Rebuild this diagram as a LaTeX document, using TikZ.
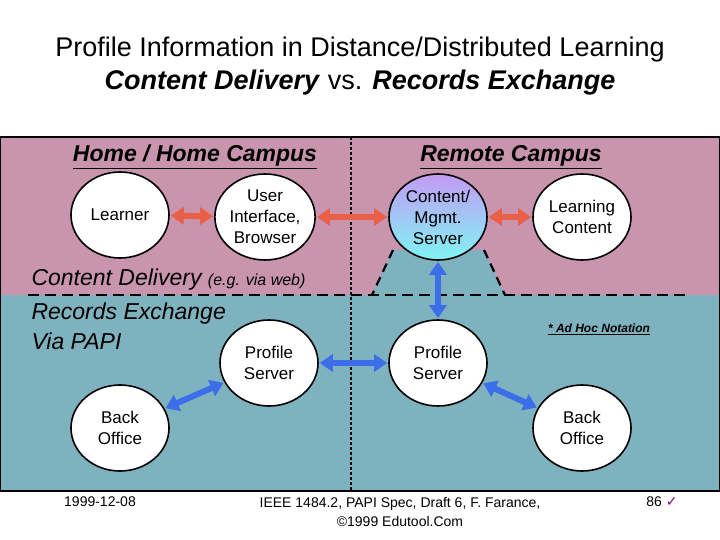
\documentclass[tikz,border=0pt]{standalone}
\usepackage{fontspec}
\setmainfont{Liberation Sans}
\newfontfamily\dejavu{DejaVu Sans}
\usetikzlibrary{arrows.meta,shapes.geometric}
\definecolor{pinkbg}{HTML}{C994AE}
\definecolor{tealbg}{HTML}{7FB2BF}
\definecolor{redarr}{HTML}{EA5F48}
\definecolor{bluearr}{HTML}{3C6EEA}
\definecolor{topgrad}{HTML}{C39BF5}
\definecolor{botgrad}{HTML}{7FF5F5}
\begin{document}
\begin{tikzpicture}[x=1pt,y=-1pt,
  ell/.style={ellipse,draw=black,line width=1.6pt,fill=white,minimum width=98pt,minimum height=86pt,inner sep=0pt,align=center,font=\fontsize{17}{21}\selectfont},
  rarr/.style={{Triangle[length=13pt,width=17pt]}-{Triangle[length=13pt,width=17pt]},line width=6pt,draw=redarr,shorten <=1pt,shorten >=1pt},
  barr/.style={{Triangle[length=13pt,width=17pt]}-{Triangle[length=13pt,width=17pt]},line width=6pt,draw=bluearr,shorten <=1pt,shorten >=1pt},
  head/.style={font=\fontsize{23}{26}\selectfont\bfseries\itshape}]
\useasboundingbox (0,0) rectangle (720,540);
\fill[white] (0,0) rectangle (720,540);
\fill[pinkbg] (0,137) rectangle (720,295);
\fill[tealbg] (0,295) rectangle (720,491);
\draw[line width=1.2pt] (0,137) -- (720,137);
\draw[line width=1.2pt] (0,491) -- (720,491);
\draw[line width=1pt] (0.5,137) -- (0.5,491) (719.5,137) -- (719.5,491);
% title
\node[font=\fontsize{27}{30}\selectfont] (t1) at (360,50) {Profile Information in Distance/Distributed Learning};
\node[font=\fontsize{27}{30}\selectfont] (t2) at (360,83) {\textit{\textbf{Content Delivery}} vs. \textit{\textbf{Records Exchange}}};
% trapezoid
\fill[tealbg] (393,250) -- (372,295) -- (505,295) -- (484,250) -- cycle;
\draw[line width=2.2pt,dash pattern=on 9pt off 6pt] (393,250) -- (372,295);
\draw[line width=2.2pt,dash pattern=on 9pt off 6pt] (484,250) -- (505,295);
\draw[line width=2.2pt,dash pattern=on 11pt off 6pt] (28,295) -- (690,295);
\draw[line width=2pt,dash pattern=on 3pt off 2pt] (351,137) -- (351,491);
% headings
\node[head] (h1) at (195,157) {\underline{Home / Home Campus}};
\node[head] (h2) at (511,157) {\underline{Remote Campus}};
\node[anchor=west,font=\fontsize{23}{26}\selectfont\itshape] (cd) at (28,280) {Content Delivery {\fontsize{16}{18}\selectfont (e.g. via web)}};
\node[anchor=west,align=left,font=\fontsize{23}{30}\selectfont\itshape] (re) at (28,326) {Records Exchange\\Via PAPI};
\node[font=\fontsize{12}{14}\selectfont\bfseries\itshape] (ah) at (599,329) {\underline{* Ad Hoc Notation}};
% nodes
\node[ell] (lr) at (120,215) {Learner};
\node[ell] (ui) at (265,217) {User\\Interface,\\Browser};
\node[ell,shading=axis,top color=topgrad,bottom color=botgrad] (cms) at (438,217) {Content/\\Mgmt.\\Server};
\node[ell] (lc) at (582,217) {Learning\\Content};
\node[ell] (ps1) at (269,363) {Profile\\Server};
\node[ell] (ps2) at (438,363) {Profile\\Server};
\node[ell] (bo1) at (120,428) {Back\\Office};
\node[ell] (bo2) at (582,428) {Back\\Office};
% arrows
\draw[rarr] (lr) -- (ui);
\draw[rarr] (ui) -- (cms);
\draw[rarr] (cms) -- (lc);
\draw[barr] (cms) -- (ps2);
\draw[barr] (ps1) -- (ps2);
\draw[barr] (ps1) -- (bo1);
\draw[barr] (ps2) -- (bo2);
% footer
\node[font=\fontsize{14}{16}\selectfont] (f1) at (100,502) {1999-12-08};
\node[align=center,font=\fontsize{14}{19}\selectfont] (f2) at (400,512) {IEEE 1484.2, PAPI Spec, Draft 6, F. Farance,\\©1999 Edutool.Com};
\node[font=\fontsize{14}{16}\selectfont] (f3) at (662,502) {86 {\dejavu\color{violet}✓}};
\end{tikzpicture}
\end{document}
